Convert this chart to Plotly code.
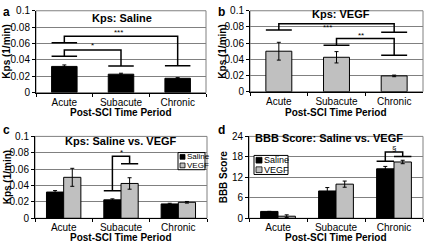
import plotly.graph_objects as go

W, H = 432, 249

categories = ["Acute", "Subacute", "Chronic"]
series_names = ["Saline", "VEGF"]
kps_saline = [0.032, 0.0225, 0.0175]
kps_saline_err = [0.0018, 0.0012, 0.0008]
kps_vegf = [0.050, 0.0425, 0.0195]
kps_vegf_err = [0.0110, 0.0070, 0.0010]
bbb_saline = [2.0, 8.0, 14.5]
bbb_saline_err = [0.0, 1.0, 0.7]
bbb_vegf = [0.6, 10.0, 16.5]
bbb_vegf_err = [0.4, 0.9, 0.5]

kps_ticks = [0, 0.02, 0.04, 0.06, 0.08, 0.1]
kps_ticktext = ["0", "0.02", "0.04", "0.06", "0.08", "0.1"]
bbb_ticks = [0, 6, 12, 18, 24]
bbb_ticktext = ["0", "6", "12", "18", "24"]

# brackets: (x_left, y_left, x_right, y_right, y_top, label, label_x, label_y)
brackets_a = [
    (0, 0.0445, 1, 0.0325, 0.052, "*", 0.5, 0.0575),
    (0, 0.061, 2, 0.0327, 0.069, "***", 0.95, 0.0735),
]
brackets_b = [
    (0, 0.0762, 2, 0.0734, 0.084, "***", 0.85, 0.079),
    (1, 0.0574, 2, 0.045, 0.0656, "**", 1.42, 0.069),
]
brackets_c = [
    (0.85, 0.0335, 1.15, 0.0665, 0.0758, "*", 1.0, 0.0805),
]
brackets_d = [
    (1.85, 16.7, 2.15, 18.1, 19.45, "§", 2.0, 20.4),
]

FONT = "Liberation Sans, Arial, sans-serif"
BLACK = "#000000"
GRAY = "#c0c0c0"
GRID = "#808080"


def px_x(p):
    return p / W


def px_y(p):
    return 1 - p / H


panels = {
    "a": dict(x=(36, 206), y=(5, 91), xa="xaxis", ya="yaxis", xr="x", yr="y"),
    "b": dict(x=(250, 423), y=(5, 90), xa="xaxis2", ya="yaxis2", xr="x2", yr="y2"),
    "c": dict(x=(35, 207), y=(137, 223), xa="xaxis3", ya="yaxis3", xr="x3", yr="y3"),
    "d": dict(x=(249, 423), y=(137, 223), xa="xaxis4", ya="yaxis4", xr="x4", yr="y4"),
}

fig = go.Figure()

bar_line = dict(color=BLACK, width=1)
err = lambda arr: dict(type="data", array=arr, visible=True, color=BLACK, thickness=1, width=2)

# Panel a
fig.add_trace(go.Bar(x=categories, y=kps_saline, error_y=err(kps_saline_err), marker=dict(color=BLACK, line=bar_line),
                     width=0.45, xaxis="x", yaxis="y", showlegend=False))
# Panel b
fig.add_trace(go.Bar(x=categories, y=kps_vegf, error_y=err(kps_vegf_err), marker=dict(color=GRAY, line=bar_line),
                     width=0.45, xaxis="x2", yaxis="y2", showlegend=False))
# Panel c
fig.add_trace(go.Bar(x=categories, y=kps_saline, error_y=err(kps_saline_err), marker=dict(color=BLACK, line=bar_line),
                     width=0.3, offset=-0.3, name=series_names[0], xaxis="x3", yaxis="y3", showlegend=False))
fig.add_trace(go.Bar(x=categories, y=kps_vegf, error_y=err(kps_vegf_err), marker=dict(color=GRAY, line=bar_line),
                     width=0.3, offset=0.0, name=series_names[1], xaxis="x3", yaxis="y3", showlegend=False))
# Panel d
fig.add_trace(go.Bar(x=categories, y=bbb_saline, error_y=err(bbb_saline_err), marker=dict(color=BLACK, line=bar_line),
                     width=0.3, offset=-0.3, name=series_names[0], xaxis="x4", yaxis="y4", showlegend=False))
fig.add_trace(go.Bar(x=categories, y=bbb_vegf, error_y=err(bbb_vegf_err), marker=dict(color=GRAY, line=bar_line),
                     width=0.3, offset=0.0, name=series_names[1], xaxis="x4", yaxis="y4", showlegend=False))

layout = dict(
    width=W, height=H, margin=dict(l=0, r=0, t=0, b=0),
    paper_bgcolor="white", plot_bgcolor="white",
    font=dict(family=FONT, size=10, color=BLACK),
    barmode="overlay", showlegend=False,
)

for key, p in panels.items():
    xa, ya = p["xa"], p["ya"]
    xr, yr = p["xr"], p["yr"]
    layout[xa] = dict(
        domain=[px_x(p["x"][0]), px_x(p["x"][1])], anchor=yr, type="category",
        range=[-0.5, 2.5], showline=True, linecolor=BLACK, linewidth=1,
        ticks="outside", ticklen=3, tickcolor=BLACK, tickson="boundaries",
        showgrid=False, tickfont=dict(size=10), fixedrange=True,
    )
    if key == "d":
        yticks, ytext, yrange = bbb_ticks, bbb_ticktext, [0, 24]
    else:
        yticks, ytext, yrange = kps_ticks, kps_ticktext, [0, 0.1]
    layout[ya] = dict(
        domain=[px_y(p["y"][1]), px_y(p["y"][0])], anchor=xr, range=yrange,
        tickmode="array", tickvals=yticks, ticktext=ytext, showline=True, linecolor=BLACK, linewidth=1,
        ticks="outside", ticklen=3, tickcolor=BLACK, showgrid=True, gridcolor=GRID,
        gridwidth=1, zeroline=False, tickfont=dict(size=10), fixedrange=True,
    )

fig.update_layout(**layout)

shapes = []
annotations = []

# plot-area borders (gray)
for key, p in panels.items():
    shapes.append(dict(type="rect", xref="paper", yref="paper",
                       x0=px_x(p["x"][0]), x1=px_x(p["x"][1]),
                       y0=px_y(p["y"][1]), y1=px_y(p["y"][0]),
                       line=dict(color=GRID, width=1), layer="below"))


def add_brackets(brs, xr, yr, cap):
    for (x1, y1, x2, y2, yt, lab, lx, ly) in brs:
        path = (f"M {x1 - cap/2} {y1} L {x1 + cap/2} {y1} M {x1} {y1} L {x1} {yt} "
                f"L {x2} {yt} L {x2} {y2} M {x2 - cap/2} {y2} L {x2 + cap/2} {y2}")
        shapes.append(dict(type="path", xref=xr, yref=yr, path=path,
                           line=dict(color=BLACK, width=1.5)))
        annotations.append(dict(xref=xr, yref=yr, x=lx, y=ly, text=lab, showarrow=False,
                                font=dict(size=8, family=FONT), xanchor="center", yanchor="middle"))


add_brackets(brackets_a, "x", "y", 0.45)
add_brackets(brackets_b, "x2", "y2", 0.45)
add_brackets(brackets_c, "x3", "y3", 0.3)
add_brackets(brackets_d, "x4", "y4", 0.3)


# compact legends (box, swatches, labels) in pixel layout
def add_legend(x0, y0, x1, y1, fsize, sw):
    shapes.append(dict(type="rect", xref="paper", yref="paper", x0=px_x(x0), x1=px_x(x1),
                       y0=px_y(y1), y1=px_y(y0), line=dict(color=BLACK, width=1), fillcolor="white"))
    rowh = (y1 - y0) / 2
    for i, (nm, col) in enumerate(zip(series_names, [BLACK, GRAY])):
        cy = y0 + rowh * (i + 0.5)
        shapes.append(dict(type="rect", xref="paper", yref="paper", x0=px_x(x0 + 2), x1=px_x(x0 + 2 + sw),
                           y0=px_y(cy + sw / 2), y1=px_y(cy - sw / 2), line=dict(color=BLACK, width=0.8), fillcolor=col))
        annotations.append(dict(xref="paper", yref="paper", x=px_x(x0 + 2 + sw + 0.5), y=px_y(cy), text=nm,
                                showarrow=False, font=dict(size=fsize, family=FONT), xanchor="left",
                                yanchor="middle", borderpad=0))


add_legend(178, 154, 205, 172, 8, 5)
add_legend(254, 157, 288, 177, 9, 6)

# titles inside plots
titles = [("Kps: Saline", 122, 13), ("Kps: VEGF", 341, 8), ("Kps: Saline vs. VEGF", 121, 142), ("BBB Score: Saline vs. VEGF", 329, 139)]
for t, x, y in titles:
    annotations.append(dict(xref="paper", yref="paper", x=px_x(x), y=px_y(y), text=f"<b>{t}</b>",
                            showarrow=False, font=dict(size=11, family=FONT), xanchor="center", yanchor="middle"))

# x-axis titles
for x, y in [(121, 112), (336, 112), (121, 243), (336, 243)]:
    annotations.append(dict(xref="paper", yref="paper", x=px_x(x), y=px_y(y), text="<b>Post-SCI Time Period</b>",
                            showarrow=False, font=dict(size=10, family=FONT), xanchor="center", yanchor="middle"))

# y-axis titles
for t, x, y in [("Kps (1/min)", 7, 48), ("Kps (1/min)", 223, 48), ("Kps (1/min)", 7, 180), ("BBB Score", 223, 180)]:
    annotations.append(dict(xref="paper", yref="paper", x=px_x(x), y=px_y(y), text=f"<b>{t}</b>",
                            showarrow=False, font=dict(size=10, family=FONT), textangle=-90,
                            xanchor="center", yanchor="middle"))

# panel letters
for t, x, y in [("a", 6, 6), ("b", 222, 6), ("c", 6, 130), ("d", 222, 130)]:
    annotations.append(dict(xref="paper", yref="paper", x=px_x(x), y=px_y(y), text=f"<b>{t}</b>",
                            showarrow=False, font=dict(size=12, family=FONT), xanchor="center", yanchor="middle"))

fig.update_layout(shapes=shapes, annotations=annotations)
fig.write_html("out.html", config={"displayModeBar": False},
               post_script="document.body.style.margin='0';document.body.style.overflow='hidden';")
